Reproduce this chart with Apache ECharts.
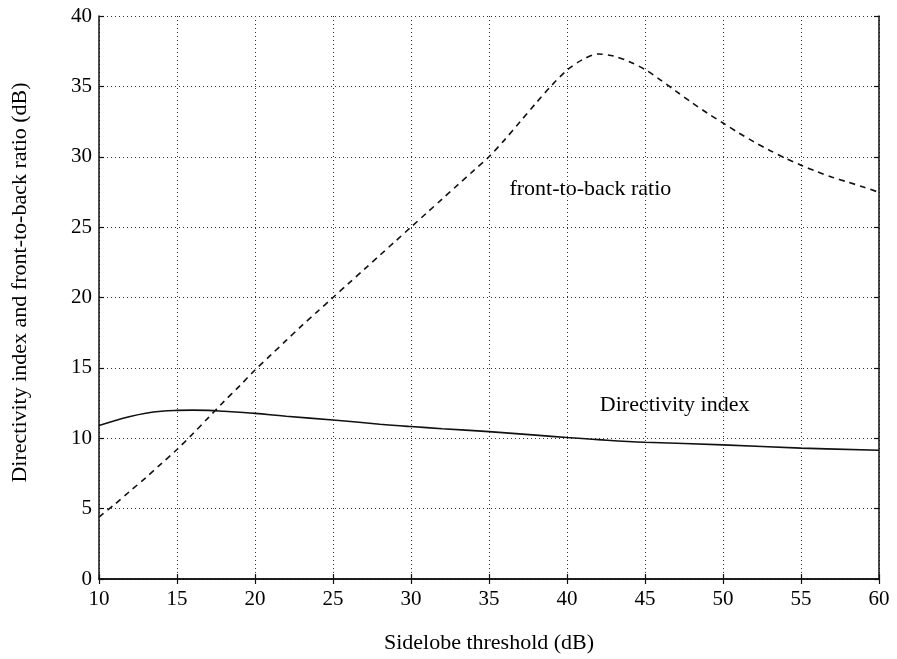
<!DOCTYPE html>
<html>
<head>
<meta charset="utf-8">
<script src="https://cdn.jsdelivr.net/npm/echarts@6/dist/echarts.min.js"></script>
<style>
html,body{margin:0;padding:0;background:#fff;}
#main{width:897px;height:659px;}
</style>
</head>
<body>
<div id="main"></div>
<script>
// Sidelobe threshold (dB)
var xDirectivity = [10,11,12,13,14,15,16,17,18,19,20,22,25,28,30,32,35,38,40,42,45,50,55,60];
var directivityIndex = [10.9,11.25,11.55,11.78,11.92,11.98,12.0,11.98,11.92,11.85,11.77,11.56,11.3,11.0,10.83,10.68,10.47,10.22,10.05,9.9,9.72,9.53,9.3,9.15];

var xRatio = [10,11,12,13,14,15,16,17,18,19,20,21,22,23,24,25,26,27,28,29,30,31,32,33,34,35,36,37,38,39,40,41,42,43,44,45,46,47,48,49,50,51,52,53,54,55,56,57,58,59,60];
var frontToBack = [4.4,5.3,6.25,7.2,8.2,9.2,10.3,11.45,12.6,13.7,14.85,15.9,16.95,18.0,19.0,20.0,21.0,22.0,23.0,24.0,25.0,26.0,27.0,28.0,29.0,30.0,31.2,32.5,33.8,35.05,36.15,36.9,37.3,37.15,36.75,36.2,35.45,34.65,33.85,33.1,32.4,31.7,31.05,30.45,29.9,29.4,28.95,28.55,28.2,27.85,27.47];

var xTicks = [10,15,20,25,30,35,40,45,50,55,60];
var yTicks = [0,5,10,15,20,25,30,35,40];

var annotations = [
  {text:'front-to-back ratio', x:41.5, y:27.7},
  {text:'Directivity index', x:46.9, y:12.35}
];

var FONT = '"Liberation Serif", "DejaVu Serif", serif';
var chart = echarts.init(document.getElementById('main'), null, {renderer:'canvas'});

function pairs(xs, ys){ return xs.map(function(x,i){return [x, ys[i]];}); }

var gridLine = {show:true, lineStyle:{color:'#333', type:[1,3], width:1}};
var option = {
  backgroundColor:'#fff',
  animation:false,
  grid:{left:99, right:18, top:16, bottom:79, containLabel:false},
  xAxis:[{
    type:'value', min:xTicks[0], max:xTicks[xTicks.length-1], interval:5,
    name:'Sidelobe threshold (dB)', nameLocation:'middle', nameGap:53,
    nameTextStyle:{fontFamily:FONT, fontSize:22, color:'#000'},
    axisLine:{show:true, onZero:false, lineStyle:{color:'#111', width:1.5}},
    axisTick:{show:true, inside:true, length:5, lineStyle:{color:'#111', width:1.2}},
    axisLabel:{fontFamily:FONT, fontSize:21, color:'#000', margin:10},
    splitLine:gridLine
  },{
    type:'value', position:'top', min:xTicks[0], max:xTicks[xTicks.length-1], interval:5,
    axisLine:{show:true, lineStyle:{color:'#111', width:1.5}},
    axisTick:{show:true, inside:true, length:5, lineStyle:{color:'#111', width:1.2}},
    axisLabel:{show:false}, splitLine:{show:false}
  }],
  yAxis:[{
    type:'value', min:yTicks[0], max:yTicks[yTicks.length-1], interval:5,
    name:'Directivity index and front-to-back ratio (dB)', nameLocation:'middle', nameGap:68,
    nameTextStyle:{fontFamily:FONT, fontSize:22, color:'#000', padding:[0,0,0,30]},
    axisLine:{show:true, onZero:false, lineStyle:{color:'#111', width:1.5}},
    axisTick:{show:true, inside:true, length:5, lineStyle:{color:'#111', width:1.2}},
    axisLabel:{fontFamily:FONT, fontSize:21, color:'#000', margin:7},
    splitLine:gridLine
  },{
    type:'value', position:'right', min:yTicks[0], max:yTicks[yTicks.length-1], interval:5,
    axisLine:{show:true, lineStyle:{color:'#111', width:1.5}},
    axisTick:{show:true, inside:true, length:5, lineStyle:{color:'#111', width:1.2}},
    axisLabel:{show:false}, splitLine:{show:false}
  }],
  series:[{
    name:'Directivity index', type:'line', smooth:0.4, showSymbol:false,
    data:pairs(xDirectivity, directivityIndex),
    lineStyle:{color:'#111', width:1.6, type:'solid'}
  },{
    name:'front-to-back ratio', type:'line', smooth:0.3, showSymbol:false,
    data:pairs(xRatio, frontToBack),
    lineStyle:{color:'#111', width:1.6, type:[6,5]}
  },{
    name:'labels', type:'scatter', symbolSize:0, silent:true,
    itemStyle:{opacity:1, color:'#000'},
    data:annotations.map(function(a){return {value:[a.x,a.y], name:a.text};}),
    label:{show:true, position:'inside', formatter:function(p){return p.name;},
      fontFamily:FONT, fontSize:22, color:'#000', opacity:1}
  }]
};
chart.setOption(option);
</script>
</body>
</html>
